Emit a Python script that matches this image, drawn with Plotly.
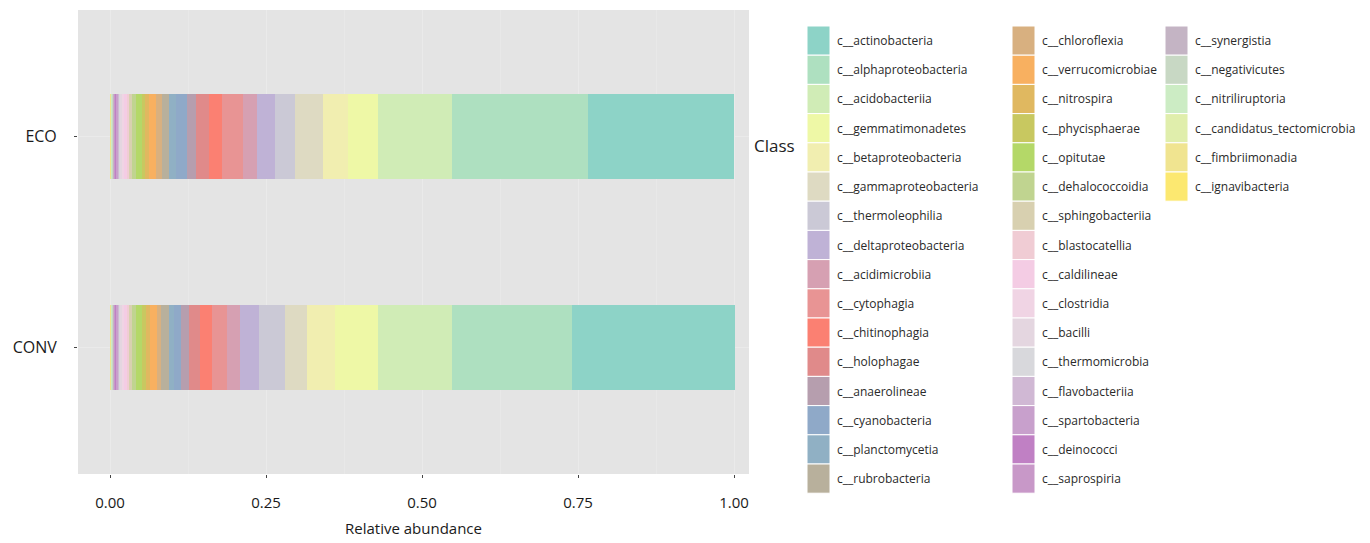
import plotly.graph_objects as go

# ---------------- data ----------------
groups = ["CONV", "ECO"]

class_names = [
    "c__actinobacteria", "c__alphaproteobacteria", "c__acidobacteriia", "c__gemmatimonadetes",
    "c__betaproteobacteria", "c__gammaproteobacteria", "c__thermoleophilia", "c__deltaproteobacteria",
    "c__acidimicrobiia", "c__cytophagia", "c__chitinophagia", "c__holophagae",
    "c__anaerolineae", "c__cyanobacteria", "c__planctomycetia", "c__rubrobacteria",
    "c__chloroflexia", "c__verrucomicrobiae", "c__nitrospira", "c__phycisphaerae",
    "c__opitutae", "c__dehalococcoidia", "c__sphingobacteriia", "c__blastocatellia",
    "c__caldilineae", "c__clostridia", "c__bacilli", "c__thermomicrobia",
    "c__flavobacteriia", "c__spartobacteria", "c__deinococci", "c__saprospiria",
    "c__synergistia", "c__negativicutes", "c__nitriliruptoria", "c__candidatus_tectomicrobia",
    "c__fimbriimonadia", "c__ignavibacteria",
]

class_colors = [
    "#8DD3C7", "#AEE0C0", "#D0ECB6", "#EEF8A6",
    "#F1EEB0", "#DEDAC2", "#CBC9D6", "#BFB2D6",
    "#D6A0B2", "#E89494", "#FB8072", "#E08A8A",
    "#B69EAE", "#8FA9C8", "#90B0C4", "#B8B09C",
    "#D8B080", "#F8B060", "#E0B860", "#C8C860",
    "#B4D868", "#C0D490", "#D8D0B0", "#F0CCD4",
    "#F4CCE4", "#F0D4E4", "#E4D6E0", "#D8D8DC",
    "#D0B8D4", "#C8A0CC", "#C080C4", "#C898C8",
    "#C4B4C4", "#C8D8C4", "#CCECC4", "#E0EEAC",
    "#F0E490", "#FCE870",
]

eco_values = [
    0.234, 0.218, 0.118, 0.048, 0.040, 0.046, 0.032, 0.029,
    0.022, 0.034, 0.021, 0.021, 0.014, 0.018, 0.011, 0.010,
    0.010, 0.012, 0.006, 0.005, 0.010, 0.006, 0.003, 0.004,
    0.005, 0.004, 0.002, 0.002, 0.002, 0.002, 0.002, 0.002,
    0.002, 0.001, 0.001, 0.001, 0.001, 0.001,
]

conv_values = [
    0.261, 0.192, 0.118, 0.070, 0.045, 0.035, 0.042, 0.030,
    0.021, 0.024, 0.018, 0.018, 0.013, 0.012, 0.008, 0.012,
    0.006, 0.012, 0.006, 0.006, 0.010, 0.007, 0.003, 0.004,
    0.005, 0.004, 0.002, 0.002, 0.002, 0.002, 0.002, 0.002,
    0.002, 0.001, 0.001, 0.001, 0.001, 0.001,
]

x_ticks = [0.0, 0.25, 0.5, 0.75, 1.0]
x_ticklabels = ["0.00", "0.25", "0.50", "0.75", "1.00"]

# ---------------- layout constants ----------------
W, H = 1370, 543
OFF = 8                               # page body margin offset
PL, PR, PT, PB = 78, 749, 10, 474     # plot panel in screen pixels
FONT = "Open Sans"


def px_to_paper_x(px):
    return (px - PL) / (PR - PL)


def px_to_paper_y(py):
    return 1 - (py - PT) / (PB - PT)


fig = go.Figure()

# stacked bars (last class at the left)
for i in reversed(range(len(class_names))):
    fig.add_trace(go.Bar(
        y=groups,
        x=[conv_values[i], eco_values[i]],
        orientation="h",
        name=class_names[i],
        marker=dict(color=class_colors[i], line=dict(width=0)),
        showlegend=False,
    ))

# ---------------- manual ggplot-style legend ----------------
legend_cols = [(0, 16, 807), (16, 32, 1012), (32, 38, 1165)]
item_top = 26
item_h = 29.2
sw_w = 23
shapes = []
annotations = []
for start, end, x0 in legend_cols:
    for k, idx in enumerate(range(start, end)):
        y0 = item_top + k * item_h
        y1 = y0 + item_h
        shapes.append(dict(
            type="rect", xref="paper", yref="paper",
            x0=px_to_paper_x(x0), x1=px_to_paper_x(x0 + sw_w),
            y0=px_to_paper_y(y1), y1=px_to_paper_y(y0),
            fillcolor=class_colors[idx], line=dict(color="white", width=1),
            layer="above",
        ))
        annotations.append(dict(
            xref="paper", yref="paper",
            x=px_to_paper_x(x0 + sw_w + 5), y=px_to_paper_y((y0 + y1) / 2),
            text=class_names[idx], showarrow=False,
            xanchor="left", yanchor="middle",
            font=dict(family=FONT, size=12, color="#2a2a2a"),
        ))

annotations.append(dict(
    xref="paper", yref="paper",
    x=px_to_paper_x(752), y=px_to_paper_y(145),
    text="Class", showarrow=False, xanchor="left", yanchor="middle",
    font=dict(family=FONT, size=17, color="#222222"),
))

fig.update_layout(
    width=W, height=H,
    barmode="stack",
    bargap=0.6,
    paper_bgcolor="white",
    plot_bgcolor="#E4E4E4",
    margin=dict(l=PL - OFF, r=W - PR + OFF, t=PT - OFF, b=H - PB + OFF, autoexpand=False),
    font=dict(family=FONT, color="#222222"),
    shapes=shapes,
    annotations=annotations,
    xaxis=dict(
        range=[-0.0513, 1.024],
        tickvals=x_ticks, ticktext=x_ticklabels,
        ticks="outside", ticklen=3, tickcolor="#444444",
        tickfont=dict(family=FONT, size=15, color="#1a1a1a"),
        ticklabelstandoff=12,
        showgrid=True, gridcolor="#EAEAEA", gridwidth=1,
        minor=dict(dtick=0.125, tick0=0.125, showgrid=True, gridcolor="#E8E8E8", gridwidth=1, ticks=""),
        zeroline=False, showline=False,
        title=dict(text="Relative abundance", font=dict(family=FONT, size=15, color="#1a1a1a"), standoff=12),
    ),
    yaxis=dict(
        categoryorder="array", categoryarray=groups,
        range=[-0.6, 1.6],
        ticks="outside", ticklen=3, tickcolor="#444444",
        tickfont=dict(family=FONT, size=16, color="#1a1a1a"),
        ticklabelstandoff=14,
        showgrid=True, gridcolor="#EAEAEA",
        zeroline=False, showline=False,
    ),
)

fig.write_html("out.html")
